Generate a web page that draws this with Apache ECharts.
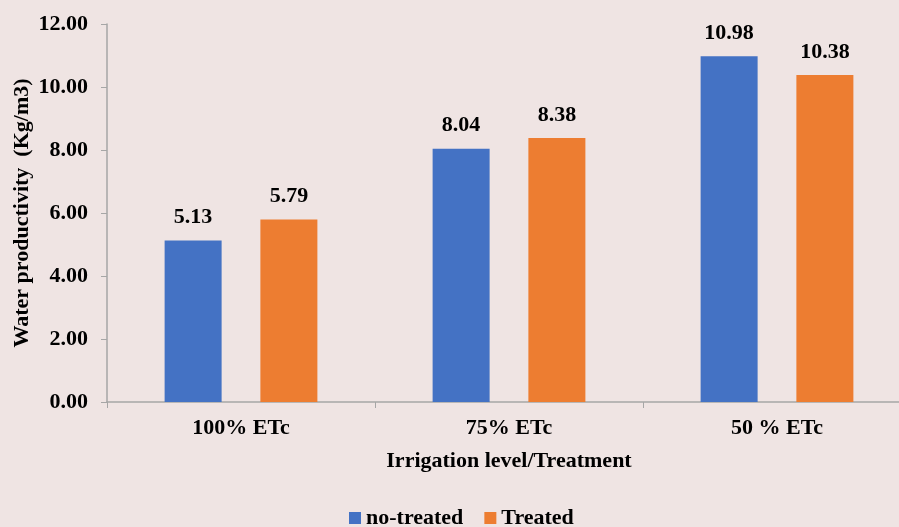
<!DOCTYPE html>
<html><head><meta charset="utf-8">
<script src="https://cdn.jsdelivr.net/npm/echarts@6/dist/echarts.min.js"></script>
<style>html,body{margin:0;padding:0;background:#EFE4E3;}#c{width:899px;height:527px;}</style>
</head><body><div id="c"></div>
<script>
const categories = ['100% ETc', '75% ETc', '50 % ETc'];
const noTreated = [5.13, 8.04, 10.98];
const treated = [5.79, 8.38, 10.38];
const yTicks = {min: 0, max: 12, interval: 2};

const font = 'Liberation Serif, Times New Roman, serif';
const chart = echarts.init(document.getElementById('c'));
const lbl = {show: true, position: 'top', distance: 12, color: '#000', fontFamily: font, fontWeight: 'bold', fontSize: 22, formatter: p => p.value.toFixed(2)};
chart.setOption({
  backgroundColor: '#EFE4E3',
  animation: false,
  grid: {left: 107, right: -12, top: 24, bottom: 125, containLabel: false, outerBoundsMode: 'none'},
  legend: {bottom: -7, left: 344, itemWidth: 12, itemHeight: 12, itemGap: 21,
    textStyle: {fontFamily: font, fontWeight: 'bold', fontSize: 22, color: '#000'},
    data: [{name: 'no-treated', icon: 'rect'}, {name: 'Treated', icon: 'rect'}]},
  xAxis: {type: 'category', data: categories,
    name: 'Irrigation level/Treatment', nameLocation: 'middle', nameGap: 48, nameMoveOverlap: false,
    nameTextStyle: {fontFamily: font, fontWeight: 'bold', fontSize: 22, color: '#000'},
    axisLine: {lineStyle: {color: '#A6A6A6', width: 1.5}},
    axisTick: {show: true, length: 6, lineStyle: {color: '#A6A6A6'}},
    axisLabel: {fontFamily: font, fontWeight: 'bold', fontSize: 22, color: '#000', margin: 15}},
  yAxis: {type: 'value', min: yTicks.min, max: yTicks.max, interval: yTicks.interval,
    name: 'Water productivity  (Kg/m3)', nameLocation: 'middle', nameGap: 74, nameRotate: 90, nameMoveOverlap: false,
    nameTextStyle: {fontFamily: font, fontWeight: 'bold', fontSize: 22, color: '#000'},
    splitLine: {show: false},
    axisLine: {show: true, lineStyle: {color: '#A6A6A6', width: 1.5}},
    axisTick: {show: true, length: 6, lineStyle: {color: '#A6A6A6'}},
    axisLabel: {fontFamily: font, fontWeight: 'bold', fontSize: 22, color: '#000', margin: 19, formatter: v => v.toFixed(2)}},
  series: [
    {name: 'no-treated', type: 'bar', data: noTreated, barWidth: 57, barGap: '68%', itemStyle: {color: '#4472C4'}, label: lbl},
    {name: 'Treated', type: 'bar', data: treated, barWidth: 57, itemStyle: {color: '#ED7D31'}, label: lbl}
  ]
});
</script></body></html>
